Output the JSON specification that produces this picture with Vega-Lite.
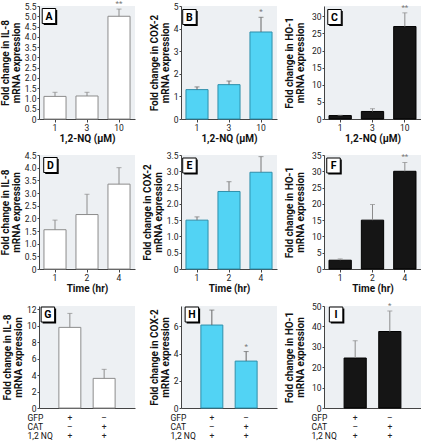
{
  "$schema": "https://vega.github.io/schema/vega-lite/v6.json",
  "padding": {"left": 0, "top": 0, "right": 0, "bottom": 0},
  "background": "#ffffff",
  "config": {
    "view": {"fill": "#edf0f3", "stroke": null},
    "font": "Roboto",
    "axis": {
      "domainColor": "#444444", "tickColor": "#444444", "grid": false,
      "labelFont": "Roboto", "labelFontSize": 8.5, "labelColor": "#222222",
      "titleFont": "Roboto", "titleFontSize": 10, "titleFontWeight": "bold", "titleColor": "#111111",
      "tickSize": 2, "labelPadding": 1, "titleLineHeight": 10.5,
      "labelOverlap": false, "labelFlush": false
    },
    "axisY": {"titlePadding": 3, "labelOverlap": false, "labelFlush": false},
    "axisX": {"labelAngle": 0, "titlePadding": 2, "tickSize": 3},
    "text": {"font": "Roboto"}
  },
  "columns": 3,
  "spacing": {"row": 7, "column": 7},
  "concat": [
    {
      "width": 96, "height": 113,
      "data": {"values": [
        {"cat": "1", "value": 1.1, "err": 1.3, "sig": ""},
        {"cat": "3", "value": 1.12, "err": 1.3, "sig": ""},
        {"cat": "10", "value": 5.0, "err": 5.35, "sig": "**"}
      ]},
      "encoding": {
        "x": {"field": "cat", "type": "nominal", "sort": null, "scale": {"paddingInner": 0.31, "paddingOuter": 0.155}, "axis": {"title": "1,2-NQ (µM)"}},
        "y": {"field": "value", "type": "quantitative", "scale": {"domain": [0, 5.5], "nice": false}, "axis": {"values": [0, 0.5, 1, 1.5, 2, 2.5, 3, 3.5, 4, 4.5, 5, 5.5], "labelOverlap": false, "labelFlush": false, "labelExpr": "datum.value == 0 ? '0' : format(datum.value, '.1f')", "title": ["Fold change in IL-8", "mRNA expression"]}}
      },
      "layer": [
        {"mark": {"type": "bar", "fill": "#ffffff", "stroke": "#8c8c8c", "strokeWidth": 1}},
        {"mark": {"type": "rule", "color": "#8c8c8c"}, "encoding": {"y2": {"field": "err"}}},
        {"mark": {"type": "tick", "color": "#8c8c8c", "size": 5, "thickness": 1}, "encoding": {"y": {"field": "err", "type": "quantitative", "axis": {"values": [0, 0.5, 1, 1.5, 2, 2.5, 3, 3.5, 4, 4.5, 5, 5.5], "labelOverlap": false, "labelFlush": false, "labelExpr": "datum.value == 0 ? '0' : format(datum.value, '.1f')", "title": ["Fold change in IL-8", "mRNA expression"]}}}},
        {"mark": {"type": "text", "baseline": "bottom", "dy": -1, "fontSize": 8, "color": "#777777"}, "encoding": {"y": {"field": "err", "type": "quantitative", "axis": {"values": [0, 0.5, 1, 1.5, 2, 2.5, 3, 3.5, 4, 4.5, 5, 5.5], "labelOverlap": false, "labelFlush": false, "labelExpr": "datum.value == 0 ? '0' : format(datum.value, '.1f')", "title": ["Fold change in IL-8", "mRNA expression"]}}, "text": {"field": "sig"}}},
        {"transform": [{"filter": "datum.cat == '1'"}],
         "encoding": {"x": {"field": "cat", "type": "nominal", "bandPosition": 0}, "y": {"datum": 5.5, "type": "quantitative", "axis": {"values": [0, 0.5, 1, 1.5, 2, 2.5, 3, 3.5, 4, 4.5, 5, 5.5], "labelOverlap": false, "labelFlush": false, "labelExpr": "datum.value == 0 ? '0' : format(datum.value, '.1f')", "title": ["Fold change in IL-8", "mRNA expression"]}}},
         "layer": [
           {"mark": {"type": "point", "shape": "M-0.9,-1H0.9V1H-0.9Z", "size": 225, "filled": true, "fill": "#000000", "opacity": 1, "xOffset": 6.5, "yOffset": 11.5}},
           {"mark": {"type": "point", "shape": "M-0.9,-1H0.9V1H-0.9Z", "size": 225, "filled": true, "fill": "#ffffff", "stroke": "#000000", "strokeWidth": 1, "opacity": 1, "xOffset": 5, "yOffset": 10}},
           {"mark": {"type": "text", "text": "A", "fontWeight": "bold", "fontSize": 10.5, "baseline": "middle", "align": "center", "color": "#000000", "xOffset": 5, "yOffset": 10.5}}
         ]}
      ]
    },
    {
      "width": 96, "height": 113,
      "data": {"values": [
        {"cat": "1", "value": 1.3, "err": 1.42, "sig": ""},
        {"cat": "3", "value": 1.52, "err": 1.68, "sig": ""},
        {"cat": "10", "value": 3.85, "err": 4.5, "sig": "*"}
      ]},
      "encoding": {
        "x": {"field": "cat", "type": "nominal", "sort": null, "scale": {"paddingInner": 0.31, "paddingOuter": 0.155}, "axis": {"title": "1,2-NQ (µM)"}},
        "y": {"field": "value", "type": "quantitative", "scale": {"domain": [0, 5], "nice": false}, "axis": {"values": [0, 1, 2, 3, 4, 5], "labelOverlap": false, "labelFlush": false, "title": ["Fold change in COX-2", "mRNA expression"]}}
      },
      "layer": [
        {"mark": {"type": "bar", "fill": "#52d3f4", "stroke": "#2f8fab", "strokeWidth": 1}},
        {"mark": {"type": "rule", "color": "#666666"}, "encoding": {"y2": {"field": "err"}}},
        {"mark": {"type": "tick", "color": "#666666", "size": 5, "thickness": 1}, "encoding": {"y": {"field": "err", "type": "quantitative", "axis": {"values": [0, 1, 2, 3, 4, 5], "labelOverlap": false, "labelFlush": false, "title": ["Fold change in COX-2", "mRNA expression"]}}}},
        {"mark": {"type": "text", "baseline": "bottom", "dy": -1, "fontSize": 8, "color": "#777777"}, "encoding": {"y": {"field": "err", "type": "quantitative", "axis": {"values": [0, 1, 2, 3, 4, 5], "labelOverlap": false, "labelFlush": false, "title": ["Fold change in COX-2", "mRNA expression"]}}, "text": {"field": "sig"}}},
        {"transform": [{"filter": "datum.cat == '1'"}],
         "encoding": {"x": {"field": "cat", "type": "nominal", "bandPosition": 0}, "y": {"datum": 5, "type": "quantitative", "axis": {"values": [0, 1, 2, 3, 4, 5], "labelOverlap": false, "labelFlush": false, "title": ["Fold change in COX-2", "mRNA expression"]}}},
         "layer": [
           {"mark": {"type": "point", "shape": "M-0.9,-1H0.9V1H-0.9Z", "size": 225, "filled": true, "fill": "#000000", "opacity": 1, "xOffset": 5, "yOffset": 12.5}},
           {"mark": {"type": "point", "shape": "M-0.9,-1H0.9V1H-0.9Z", "size": 225, "filled": true, "fill": "#ffffff", "stroke": "#000000", "strokeWidth": 1, "opacity": 1, "xOffset": 3.5, "yOffset": 11}},
           {"mark": {"type": "text", "text": "B", "fontWeight": "bold", "fontSize": 10.5, "baseline": "middle", "align": "center", "color": "#000000", "xOffset": 3.5, "yOffset": 11.5}}
         ]}
      ]
    },
    {
      "width": 97, "height": 113,
      "data": {"values": [
        {"cat": "1", "value": 1.0, "err": 1.1, "sig": ""},
        {"cat": "3", "value": 2.2, "err": 3.0, "sig": ""},
        {"cat": "10", "value": 27.0, "err": 31.0, "sig": "**"}
      ]},
      "encoding": {
        "x": {"field": "cat", "type": "nominal", "sort": null, "scale": {"paddingInner": 0.31, "paddingOuter": 0.155}, "axis": {"title": "1,2-NQ (µM)"}},
        "y": {"field": "value", "type": "quantitative", "scale": {"domain": [0, 33], "nice": false}, "axis": {"values": [0, 5, 10, 15, 20, 25, 30], "labelOverlap": false, "labelFlush": false, "titlePadding": 6, "title": ["Fold change in HO-1", "mRNA expression"]}}
      },
      "layer": [
        {"mark": {"type": "bar", "fill": "#151515", "stroke": "#000000", "strokeWidth": 1}},
        {"mark": {"type": "rule", "color": "#8c8c8c"}, "encoding": {"y2": {"field": "err"}}},
        {"mark": {"type": "tick", "color": "#8c8c8c", "size": 5, "thickness": 1}, "encoding": {"y": {"field": "err", "type": "quantitative", "axis": {"values": [0, 5, 10, 15, 20, 25, 30], "labelOverlap": false, "labelFlush": false, "titlePadding": 6, "title": ["Fold change in HO-1", "mRNA expression"]}}}},
        {"mark": {"type": "text", "baseline": "bottom", "dy": -1, "fontSize": 8, "color": "#777777"}, "encoding": {"y": {"field": "err", "type": "quantitative", "axis": {"values": [0, 5, 10, 15, 20, 25, 30], "labelOverlap": false, "labelFlush": false, "titlePadding": 6, "title": ["Fold change in HO-1", "mRNA expression"]}}, "text": {"field": "sig"}}},
        {"transform": [{"filter": "datum.cat == '1'"}],
         "encoding": {"x": {"field": "cat", "type": "nominal", "bandPosition": 0}, "y": {"datum": 33, "type": "quantitative", "axis": {"values": [0, 5, 10, 15, 20, 25, 30], "labelOverlap": false, "labelFlush": false, "titlePadding": 6, "title": ["Fold change in HO-1", "mRNA expression"]}}},
         "layer": [
           {"mark": {"type": "point", "shape": "M-0.9,-1H0.9V1H-0.9Z", "size": 225, "filled": true, "fill": "#000000", "opacity": 1, "xOffset": 7, "yOffset": 12.5}},
           {"mark": {"type": "point", "shape": "M-0.9,-1H0.9V1H-0.9Z", "size": 225, "filled": true, "fill": "#ffffff", "stroke": "#000000", "strokeWidth": 1, "opacity": 1, "xOffset": 5.5, "yOffset": 11}},
           {"mark": {"type": "text", "text": "C", "fontWeight": "bold", "fontSize": 10.5, "baseline": "middle", "align": "center", "color": "#000000", "xOffset": 5.5, "yOffset": 11.5}}
         ]}
      ]
    },
    {
      "width": 96, "height": 114,
      "data": {"values": [
        {"cat": "1", "value": 1.55, "err": 1.93, "sig": ""},
        {"cat": "2", "value": 2.15, "err": 2.95, "sig": ""},
        {"cat": "4", "value": 3.35, "err": 4.0, "sig": ""}
      ]},
      "encoding": {
        "x": {"field": "cat", "type": "nominal", "sort": null, "scale": {"paddingInner": 0.31, "paddingOuter": 0.155}, "axis": {"title": "Time (hr)"}},
        "y": {"field": "value", "type": "quantitative", "scale": {"domain": [0, 4.5], "nice": false}, "axis": {"values": [0, 0.5, 1, 1.5, 2, 2.5, 3, 3.5, 4, 4.5], "labelOverlap": false, "labelFlush": false, "labelExpr": "datum.value == 0 ? '0' : format(datum.value, '.1f')", "title": ["Fold change in IL-8", "mRNA expression"]}}
      },
      "layer": [
        {"mark": {"type": "bar", "fill": "#ffffff", "stroke": "#8c8c8c", "strokeWidth": 1}},
        {"mark": {"type": "rule", "color": "#8c8c8c"}, "encoding": {"y2": {"field": "err"}}},
        {"mark": {"type": "tick", "color": "#8c8c8c", "size": 5, "thickness": 1}, "encoding": {"y": {"field": "err", "type": "quantitative", "axis": {"values": [0, 0.5, 1, 1.5, 2, 2.5, 3, 3.5, 4, 4.5], "labelOverlap": false, "labelFlush": false, "labelExpr": "datum.value == 0 ? '0' : format(datum.value, '.1f')", "title": ["Fold change in IL-8", "mRNA expression"]}}}},
        {"transform": [{"filter": "datum.cat == '1'"}],
         "encoding": {"x": {"field": "cat", "type": "nominal", "bandPosition": 0}, "y": {"datum": 4.5, "type": "quantitative", "axis": {"values": [0, 0.5, 1, 1.5, 2, 2.5, 3, 3.5, 4, 4.5], "labelOverlap": false, "labelFlush": false, "labelExpr": "datum.value == 0 ? '0' : format(datum.value, '.1f')", "title": ["Fold change in IL-8", "mRNA expression"]}}},
         "layer": [
           {"mark": {"type": "point", "shape": "M-0.9,-1H0.9V1H-0.9Z", "size": 225, "filled": true, "fill": "#000000", "opacity": 1, "xOffset": 8, "yOffset": 11.5}},
           {"mark": {"type": "point", "shape": "M-0.9,-1H0.9V1H-0.9Z", "size": 225, "filled": true, "fill": "#ffffff", "stroke": "#000000", "strokeWidth": 1, "opacity": 1, "xOffset": 6.5, "yOffset": 10}},
           {"mark": {"type": "text", "text": "D", "fontWeight": "bold", "fontSize": 10.5, "baseline": "middle", "align": "center", "color": "#000000", "xOffset": 6.5, "yOffset": 10.5}}
         ]}
      ]
    },
    {
      "width": 96, "height": 114,
      "data": {"values": [
        {"cat": "1", "value": 1.5, "err": 1.6, "sig": ""},
        {"cat": "2", "value": 2.38, "err": 2.68, "sig": ""},
        {"cat": "4", "value": 2.97, "err": 3.45, "sig": ""}
      ]},
      "encoding": {
        "x": {"field": "cat", "type": "nominal", "sort": null, "scale": {"paddingInner": 0.31, "paddingOuter": 0.155}, "axis": {"title": "Time (hr)"}},
        "y": {"field": "value", "type": "quantitative", "scale": {"domain": [0, 3.5], "nice": false}, "axis": {"values": [0, 0.5, 1, 1.5, 2, 2.5, 3, 3.5], "labelOverlap": false, "labelFlush": false, "labelExpr": "datum.value == 0 ? '0' : format(datum.value, '.1f')", "title": ["Fold change in COX-2", "mRNA expression"]}}
      },
      "layer": [
        {"mark": {"type": "bar", "fill": "#52d3f4", "stroke": "#2f8fab", "strokeWidth": 1}},
        {"mark": {"type": "rule", "color": "#777777"}, "encoding": {"y2": {"field": "err"}}},
        {"mark": {"type": "tick", "color": "#777777", "size": 5, "thickness": 1}, "encoding": {"y": {"field": "err", "type": "quantitative", "axis": {"values": [0, 0.5, 1, 1.5, 2, 2.5, 3, 3.5], "labelOverlap": false, "labelFlush": false, "labelExpr": "datum.value == 0 ? '0' : format(datum.value, '.1f')", "title": ["Fold change in COX-2", "mRNA expression"]}}}},
        {"transform": [{"filter": "datum.cat == '1'"}],
         "encoding": {"x": {"field": "cat", "type": "nominal", "bandPosition": 0}, "y": {"datum": 3.5, "type": "quantitative", "axis": {"values": [0, 0.5, 1, 1.5, 2, 2.5, 3, 3.5], "labelOverlap": false, "labelFlush": false, "labelExpr": "datum.value == 0 ? '0' : format(datum.value, '.1f')", "title": ["Fold change in COX-2", "mRNA expression"]}}},
         "layer": [
           {"mark": {"type": "point", "shape": "M-0.9,-1H0.9V1H-0.9Z", "size": 225, "filled": true, "fill": "#000000", "opacity": 1, "xOffset": 5, "yOffset": 12}},
           {"mark": {"type": "point", "shape": "M-0.9,-1H0.9V1H-0.9Z", "size": 225, "filled": true, "fill": "#ffffff", "stroke": "#000000", "strokeWidth": 1, "opacity": 1, "xOffset": 3.5, "yOffset": 10.5}},
           {"mark": {"type": "text", "text": "E", "fontWeight": "bold", "fontSize": 10.5, "baseline": "middle", "align": "center", "color": "#000000", "xOffset": 3.5, "yOffset": 11}}
         ]}
      ]
    },
    {
      "width": 97, "height": 114,
      "data": {"values": [
        {"cat": "1", "value": 2.7, "err": 3.1, "sig": ""},
        {"cat": "2", "value": 15.0, "err": 19.8, "sig": ""},
        {"cat": "4", "value": 30.0, "err": 32.7, "sig": "**"}
      ]},
      "encoding": {
        "x": {"field": "cat", "type": "nominal", "sort": null, "scale": {"paddingInner": 0.31, "paddingOuter": 0.155}, "axis": {"title": "Time (hr)"}},
        "y": {"field": "value", "type": "quantitative", "scale": {"domain": [0, 35], "nice": false}, "axis": {"values": [0, 5, 10, 15, 20, 25, 30, 35], "labelOverlap": false, "labelFlush": false, "titlePadding": 6, "title": ["Fold change in HO-1", "mRNA expression"]}}
      },
      "layer": [
        {"mark": {"type": "bar", "fill": "#151515", "stroke": "#000000", "strokeWidth": 1}},
        {"mark": {"type": "rule", "color": "#8c8c8c"}, "encoding": {"y2": {"field": "err"}}},
        {"mark": {"type": "tick", "color": "#8c8c8c", "size": 5, "thickness": 1}, "encoding": {"y": {"field": "err", "type": "quantitative", "axis": {"values": [0, 5, 10, 15, 20, 25, 30, 35], "labelOverlap": false, "labelFlush": false, "titlePadding": 6, "title": ["Fold change in HO-1", "mRNA expression"]}}}},
        {"mark": {"type": "text", "baseline": "bottom", "dy": -1, "fontSize": 8, "color": "#777777"}, "encoding": {"y": {"field": "err", "type": "quantitative", "axis": {"values": [0, 5, 10, 15, 20, 25, 30, 35], "labelOverlap": false, "labelFlush": false, "titlePadding": 6, "title": ["Fold change in HO-1", "mRNA expression"]}}, "text": {"field": "sig"}}},
        {"transform": [{"filter": "datum.cat == '1'"}],
         "encoding": {"x": {"field": "cat", "type": "nominal", "bandPosition": 0}, "y": {"datum": 35, "type": "quantitative", "axis": {"values": [0, 5, 10, 15, 20, 25, 30, 35], "labelOverlap": false, "labelFlush": false, "titlePadding": 6, "title": ["Fold change in HO-1", "mRNA expression"]}}},
         "layer": [
           {"mark": {"type": "point", "shape": "M-0.9,-1H0.9V1H-0.9Z", "size": 225, "filled": true, "fill": "#000000", "opacity": 1, "xOffset": 6, "yOffset": 12}},
           {"mark": {"type": "point", "shape": "M-0.9,-1H0.9V1H-0.9Z", "size": 225, "filled": true, "fill": "#ffffff", "stroke": "#000000", "strokeWidth": 1, "opacity": 1, "xOffset": 4.5, "yOffset": 10.5}},
           {"mark": {"type": "text", "text": "F", "fontWeight": "bold", "fontSize": 10.5, "baseline": "middle", "align": "center", "color": "#000000", "xOffset": 4.5, "yOffset": 11}}
         ]}
      ]
    },
    {
      "width": 96, "height": 102,
      "data": {"values": [
        {"cat": "GFP", "value": 9.8, "err": 11.5, "sig": ""},
        {"cat": "CAT", "value": 3.6, "err": 4.7, "sig": ""}
      ]},
      "encoding": {
        "x": {"field": "cat", "type": "nominal", "sort": null, "scale": {"paddingInner": 0.36, "paddingOuter": 0.58},
          "axis": {"title": ["GFP", "CAT", "1,2 NQ"], "titleAngle": 0, "titleAlign": "left", "titleBaseline": "top", "titleX": -12, "titleY": 5, "titleFontWeight": "normal", "titleFontSize": 8.5, "titleLineHeight": 9.3,
            "labelExpr": "datum.value == 'GFP' ? ['+', '–', '+'] : ['–', '+', '+']", "labelLineHeight": 9.3, "labelBaseline": "top", "tickSize": 0, "labelPadding": 5}},
        "y": {"field": "value", "type": "quantitative", "scale": {"domain": [0, 12.4], "nice": false}, "axis": {"values": [0, 2, 4, 6, 8, 10, 12], "labelOverlap": false, "labelFlush": false, "title": ["Fold change in IL-8", "mRNA expression"]}}
      },
      "layer": [
        {"mark": {"type": "bar", "fill": "#ffffff", "stroke": "#8c8c8c", "strokeWidth": 1}},
        {"mark": {"type": "rule", "color": "#8c8c8c"}, "encoding": {"y2": {"field": "err"}}},
        {"mark": {"type": "tick", "color": "#8c8c8c", "size": 5, "thickness": 1}, "encoding": {"y": {"field": "err", "type": "quantitative", "axis": {"values": [0, 2, 4, 6, 8, 10, 12], "labelOverlap": false, "labelFlush": false, "title": ["Fold change in IL-8", "mRNA expression"]}}}},
        {"transform": [{"filter": "datum.cat == 'GFP'"}],
         "encoding": {"x": {"field": "cat", "type": "nominal", "bandPosition": 0}, "y": {"datum": 12.4, "type": "quantitative", "axis": {"values": [0, 2, 4, 6, 8, 10, 12], "labelOverlap": false, "labelFlush": false, "title": ["Fold change in IL-8", "mRNA expression"]}}},
         "layer": [
           {"mark": {"type": "point", "shape": "M-0.9,-1H0.9V1H-0.9Z", "size": 225, "filled": true, "fill": "#000000", "opacity": 1, "xOffset": -9.5, "yOffset": 10}},
           {"mark": {"type": "point", "shape": "M-0.9,-1H0.9V1H-0.9Z", "size": 225, "filled": true, "fill": "#ffffff", "stroke": "#000000", "strokeWidth": 1, "opacity": 1, "xOffset": -11, "yOffset": 8.5}},
           {"mark": {"type": "text", "text": "G", "fontWeight": "bold", "fontSize": 10.5, "baseline": "middle", "align": "center", "color": "#000000", "xOffset": -11, "yOffset": 9}}
         ]}
      ]
    },
    {
      "width": 96, "height": 102,
      "data": {"values": [
        {"cat": "GFP", "value": 6.1, "err": 7.2, "sig": ""},
        {"cat": "CAT", "value": 3.45, "err": 4.15, "sig": "*"}
      ]},
      "encoding": {
        "x": {"field": "cat", "type": "nominal", "sort": null, "scale": {"paddingInner": 0.36, "paddingOuter": 0.58},
          "axis": {"title": ["GFP", "CAT", "1,2 NQ"], "titleAngle": 0, "titleAlign": "left", "titleBaseline": "top", "titleX": -11, "titleY": 5, "titleFontWeight": "normal", "titleFontSize": 8.5, "titleLineHeight": 9.3,
            "labelExpr": "datum.value == 'GFP' ? ['+', '–', '+'] : ['–', '+', '+']", "labelLineHeight": 9.3, "labelBaseline": "top", "tickSize": 0, "labelPadding": 5}},
        "y": {"field": "value", "type": "quantitative", "scale": {"domain": [0, 7.5], "nice": false}, "axis": {"values": [0, 2, 4, 6], "labelOverlap": false, "labelFlush": false, "title": ["Fold change in COX-2", "mRNA expression"]}}
      },
      "layer": [
        {"mark": {"type": "bar", "fill": "#52d3f4", "stroke": "#2f8fab", "strokeWidth": 1}},
        {"mark": {"type": "rule", "color": "#666666"}, "encoding": {"y2": {"field": "err"}}},
        {"mark": {"type": "tick", "color": "#666666", "size": 5, "thickness": 1}, "encoding": {"y": {"field": "err", "type": "quantitative", "axis": {"values": [0, 2, 4, 6], "labelOverlap": false, "labelFlush": false, "title": ["Fold change in COX-2", "mRNA expression"]}}}},
        {"mark": {"type": "text", "baseline": "bottom", "dy": -1, "fontSize": 8, "color": "#777777"}, "encoding": {"y": {"field": "err", "type": "quantitative", "axis": {"values": [0, 2, 4, 6], "labelOverlap": false, "labelFlush": false, "title": ["Fold change in COX-2", "mRNA expression"]}}, "text": {"field": "sig"}}},
        {"transform": [{"filter": "datum.cat == 'GFP'"}],
         "encoding": {"x": {"field": "cat", "type": "nominal", "bandPosition": 0}, "y": {"datum": 7.5, "type": "quantitative", "axis": {"values": [0, 2, 4, 6], "labelOverlap": false, "labelFlush": false, "title": ["Fold change in COX-2", "mRNA expression"]}}},
         "layer": [
           {"mark": {"type": "point", "shape": "M-0.9,-1H0.9V1H-0.9Z", "size": 225, "filled": true, "fill": "#000000", "opacity": 1, "xOffset": -7.5, "yOffset": 10}},
           {"mark": {"type": "point", "shape": "M-0.9,-1H0.9V1H-0.9Z", "size": 225, "filled": true, "fill": "#ffffff", "stroke": "#000000", "strokeWidth": 1, "opacity": 1, "xOffset": -9, "yOffset": 8.5}},
           {"mark": {"type": "text", "text": "H", "fontWeight": "bold", "fontSize": 10.5, "baseline": "middle", "align": "center", "color": "#000000", "xOffset": -9, "yOffset": 9}}
         ]}
      ]
    },
    {
      "width": 97, "height": 102,
      "data": {"values": [
        {"cat": "GFP", "value": 24.5, "err": 33.0, "sig": ""},
        {"cat": "CAT", "value": 37.5, "err": 47.5, "sig": "*"}
      ]},
      "encoding": {
        "x": {"field": "cat", "type": "nominal", "sort": null, "scale": {"paddingInner": 0.36, "paddingOuter": 0.58},
          "axis": {"title": ["GFP", "CAT", "1,2 NQ"], "titleAngle": 0, "titleAlign": "left", "titleBaseline": "top", "titleX": -13, "titleY": 5, "titleFontWeight": "normal", "titleFontSize": 8.5, "titleLineHeight": 9.3,
            "labelExpr": "datum.value == 'GFP' ? ['+', '–', '+'] : ['–', '+', '+']", "labelLineHeight": 9.3, "labelBaseline": "top", "tickSize": 0, "labelPadding": 5}},
        "y": {"field": "value", "type": "quantitative", "scale": {"domain": [0, 50], "nice": false}, "axis": {"values": [0, 10, 20, 30, 40, 50], "labelOverlap": false, "labelFlush": false, "titlePadding": 6, "title": ["Fold change in HO-1", "mRNA expression"]}}
      },
      "layer": [
        {"mark": {"type": "bar", "fill": "#151515", "stroke": "#000000", "strokeWidth": 1}},
        {"mark": {"type": "rule", "color": "#8c8c8c"}, "encoding": {"y2": {"field": "err"}}},
        {"mark": {"type": "tick", "color": "#8c8c8c", "size": 5, "thickness": 1}, "encoding": {"y": {"field": "err", "type": "quantitative", "axis": {"values": [0, 10, 20, 30, 40, 50], "labelOverlap": false, "labelFlush": false, "titlePadding": 6, "title": ["Fold change in HO-1", "mRNA expression"]}}}},
        {"mark": {"type": "text", "baseline": "bottom", "dy": -1, "fontSize": 8, "color": "#777777"}, "encoding": {"y": {"field": "err", "type": "quantitative", "axis": {"values": [0, 10, 20, 30, 40, 50], "labelOverlap": false, "labelFlush": false, "titlePadding": 6, "title": ["Fold change in HO-1", "mRNA expression"]}}, "text": {"field": "sig"}}},
        {"transform": [{"filter": "datum.cat == 'GFP'"}],
         "encoding": {"x": {"field": "cat", "type": "nominal", "bandPosition": 0}, "y": {"datum": 50, "type": "quantitative", "axis": {"values": [0, 10, 20, 30, 40, 50], "labelOverlap": false, "labelFlush": false, "titlePadding": 6, "title": ["Fold change in HO-1", "mRNA expression"]}}},
         "layer": [
           {"mark": {"type": "point", "shape": "M-0.9,-1H0.9V1H-0.9Z", "size": 225, "filled": true, "fill": "#000000", "opacity": 1, "xOffset": -6.5, "yOffset": 10}},
           {"mark": {"type": "point", "shape": "M-0.9,-1H0.9V1H-0.9Z", "size": 225, "filled": true, "fill": "#ffffff", "stroke": "#000000", "strokeWidth": 1, "opacity": 1, "xOffset": -8, "yOffset": 8.5}},
           {"mark": {"type": "text", "text": "I", "fontWeight": "bold", "fontSize": 10.5, "baseline": "middle", "align": "center", "color": "#000000", "xOffset": -8, "yOffset": 9}}
         ]}
      ]
    }
  ]
}
